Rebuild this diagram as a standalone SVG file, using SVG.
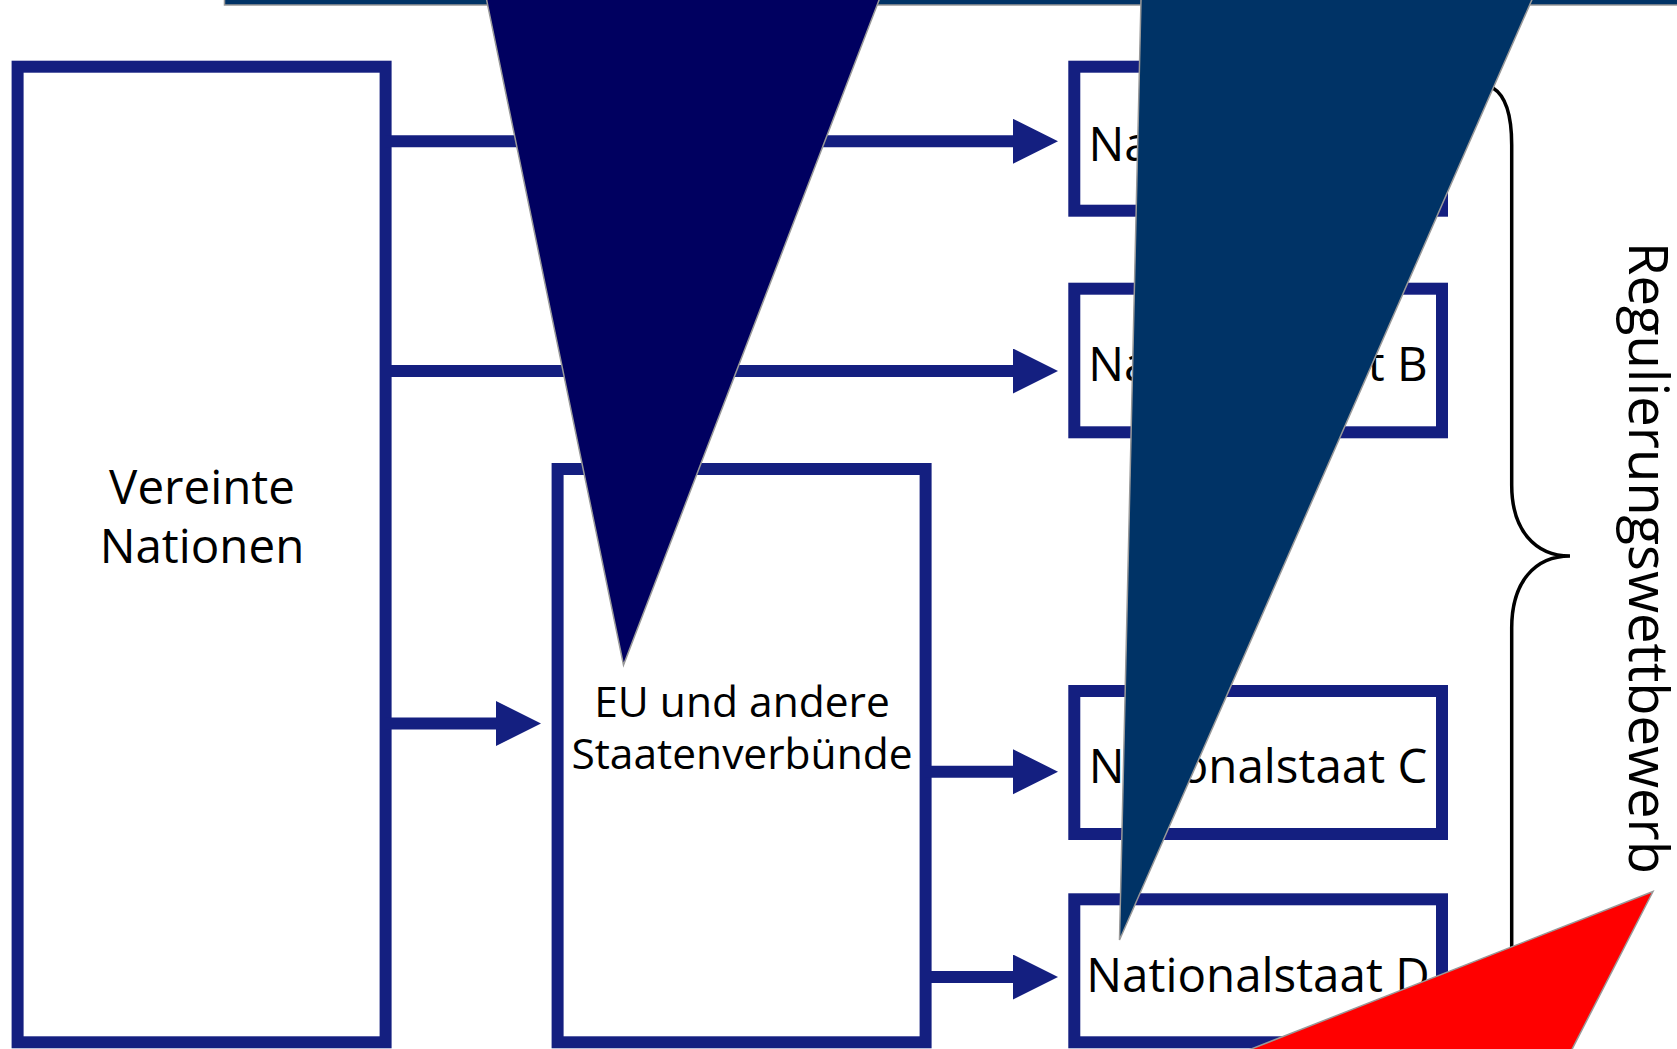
<svg xmlns="http://www.w3.org/2000/svg" width="1677" height="1049" viewBox="0 0 1677 1049">
<defs>
<style>
.box{fill:#fff;stroke:#141f80;stroke-width:12}
.con{stroke:#141f80;stroke-width:12;fill:none}
.lbl{font-family:"Open Sans","Noto Sans","DejaVu Sans",sans-serif;fill:#000;text-anchor:middle}
.shape{stroke:#999;stroke-width:1.5}
</style>
<marker id="ah" markerUnits="userSpaceOnUse" markerWidth="46" markerHeight="46" refX="0" refY="22.5" orient="auto" viewBox="0 0 46 46">
<path d="M0,0 L45,22.5 L0,45 z" fill="#141f80"/>
</marker>
</defs>
<rect width="1677" height="1049" fill="#fff"/>
<g id="un">
<rect class="box" x="17.6" y="66.7" width="368" height="975.6"/>
<text class="lbl" x="202" y="504" font-size="47.5">Vereinte</text>
<text class="lbl" x="202" y="562.7" font-size="47.5">Nationen</text>
</g>
<g id="eu">
<rect class="box" x="557.6" y="469" width="368" height="573.3"/>
<text class="lbl" x="742" y="716.7" font-size="42.5">EU und andere</text>
<text class="lbl" x="742" y="768.5" font-size="42.5">Staatenverbünde</text>
</g>
<g id="staat-a">
<rect class="box" x="1074.3" y="66.7" width="367.7" height="144"/>
<text class="lbl" x="1258" y="160.7" font-size="47.5">Nationalstaat A</text>
</g>
<g id="staat-b">
<rect class="box" x="1074.3" y="288.7" width="367.7" height="143.6"/>
<text class="lbl" x="1258" y="381" font-size="47.5">Nationalstaat B</text>
</g>
<g id="staat-c">
<rect class="box" x="1074.3" y="691" width="367.7" height="143"/>
<text class="lbl" x="1258" y="782.7" font-size="47.5">Nationalstaat C</text>
</g>
<g id="staat-d">
<rect class="box" x="1074.3" y="899.3" width="367.7" height="143"/>
<text class="lbl" x="1258" y="991.7" font-size="47.5">Nationalstaat D</text>
</g>
<g id="connectors">
<line class="con" x1="385" y1="141.3" x2="1013" y2="141.3" marker-end="url(#ah)"/>
<line class="con" x1="385" y1="371" x2="1013" y2="371" marker-end="url(#ah)"/>
<line class="con" x1="385" y1="723.5" x2="496" y2="723.5" marker-end="url(#ah)"/>
<line class="con" x1="925" y1="771.7" x2="1013" y2="771.7" marker-end="url(#ah)"/>
<line class="con" x1="925" y1="977" x2="1013" y2="977" marker-end="url(#ah)"/>
</g>
<g id="brace">
<path d="M1493,88 C1506,96 1511.7,115 1511.7,145 L1511.7,485 C1511.7,530 1535,556 1570,556 C1535,556 1511.7,582 1511.7,628 L1511.7,965 C1511.7,995 1506,1014 1493,1022" fill="none" stroke="#000" stroke-width="3.5"/>
<text font-family="'Open Sans','Noto Sans','DejaVu Sans',sans-serif" font-size="55" fill="#000" transform="translate(1629,242) rotate(90)" textLength="632" lengthAdjust="spacingAndGlyphs">Regulierungswettbewerb</text>
</g>
<g id="overlays">
<rect class="shape" x="224.5" y="-100" width="1500" height="105" fill="#003366"/>
<polygon class="shape" points="485.6,-5 881,-5 623.5,665" fill="#000060"/>
<polygon class="shape" points="1141.1,-5 1534,-5 1119.5,940" fill="#003366"/>
<polygon class="shape" points="1653,891.5 1121,1100 1546,1100" fill="#ff0000"/>
</g>
</svg>
